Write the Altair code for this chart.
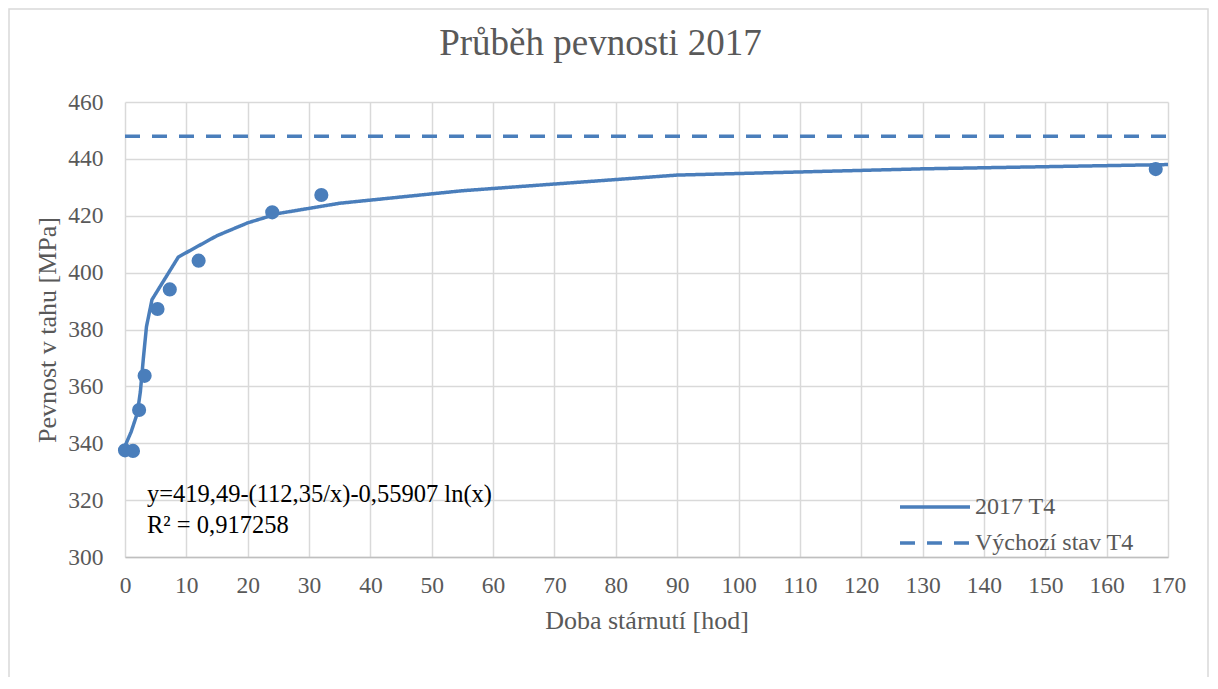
import altair as alt
import pandas as pd

# measured points
pt_x = [0, 1.3, 2.3, 3.2, 5.3, 7.3, 12, 24, 32, 168]
pt_y = [337.5, 337.3, 351.7, 363.7, 387.2, 394.1, 404.2, 421.2, 427.3, 436.4]

# "2017 T4" curve
line_x = [0, 1, 2, 2.5, 3, 3.5, 4.4, 8.7, 15, 20, 25, 35, 55, 90, 130, 170]
line_y = [339, 344, 350.5, 358, 370, 381, 390.5, 405.5, 413, 417.5, 420.8, 424.4, 428.8, 434.3, 436.5, 438]

# "Výchozí stav T4" reference level
ref_x = [0, 170]
ref_y = [448, 448]

series = ["2017 T4", "Výchozí stav T4"]
title_text = "Průběh pevnosti 2017"
eq_lines = ["y=419,49-(112,35/x)-0,55907 ln(x)", "R² = 0,917258"]

BLUE = "#4a7ebb"
GREY = "#595959"
FONT = "Liberation Serif"

lines = pd.DataFrame(
    {
        "x": line_x + ref_x,
        "y": line_y + ref_y,
        "s": [series[0]] * len(line_x) + [series[1]] * len(ref_x),
    }
)
pts = pd.DataFrame({"x": pt_x, "y": pt_y})
one = pd.DataFrame({"k": [0]})

xscale = alt.Scale(domain=[0, 170], nice=False, zero=False)
yscale = alt.Scale(domain=[300, 460], nice=False, zero=False)

xaxis = alt.Axis(
    title="Doba stárnutí [hod]",
    values=list(range(0, 171, 10)),
    grid=True,
    ticks=False,
    domain=True,
    domainColor="#bfbfbf",
    domainWidth=1.5,
    labelFlush=False,
    labelOverlap=False,
    labelPadding=16,
    titlePadding=11,
)
yaxis = alt.Axis(
    title="Pevnost v tahu [MPa]",
    values=list(range(300, 461, 20)),
    grid=True,
    ticks=False,
    domain=False,
    labelFlush=False,
    labelOverlap=False,
    labelPadding=22,
    titlePadding=7,
)

line_layer = (
    alt.Chart(lines)
    .mark_line(strokeWidth=3.5, color=BLUE, interpolate="linear")
    .encode(
        x=alt.X("x:Q", scale=xscale, axis=xaxis),
        y=alt.Y("y:Q", scale=yscale, axis=yaxis),
        strokeDash=alt.StrokeDash(
            "s:N",
            scale=alt.Scale(domain=series, range=[[1, 0], [15, 12]]),
            legend=alt.Legend(
                title=None,
                orient="none",
                direction="vertical",
                legendX=773,
                legendY=395,
                symbolType="stroke",
                symbolSize=4900,
                symbolStrokeWidth=3.5,
                symbolStrokeColor=BLUE,
                labelFont=FONT,
                labelFontSize=24,
                labelColor=GREY,
                labelOffset=3,
                clipHeight=20,
                rowPadding=12,
                padding=0,
            ),
        ),
        detail="s:N",
    )
)

pt_layer = (
    alt.Chart(pts)
    .mark_circle(size=200, color=BLUE, opacity=1)
    .encode(x=alt.X("x:Q", scale=xscale), y=alt.Y("y:Q", scale=yscale))
)

eq1 = alt.Chart(one).mark_text(
    text=eq_lines[0],
    font=FONT,
    fontSize=24.5,
    color="black",
    align="left",
    baseline="alphabetic",
).encode(x=alt.value(22), y=alt.value(400))

eq2 = alt.Chart(one).mark_text(
    text=eq_lines[1],
    font=FONT,
    fontSize=24.5,
    color="black",
    align="left",
    baseline="alphabetic",
).encode(x=alt.value(22), y=alt.value(431))

title = alt.Chart(one).mark_text(
    text=title_text,
    font=FONT,
    fontSize=37,
    color=GREY,
    align="center",
    baseline="alphabetic",
).encode(x=alt.value(475.5), y=alt.value(-47))

frame = alt.Chart(one).mark_rect(fill=None, stroke="#d9d9d9", strokeWidth=1.5).encode(
    x=alt.value(-116), x2=alt.value(1083), y=alt.value(-93), y2=alt.value(700)
)

chart = (
    alt.layer(frame, line_layer, pt_layer, eq1, eq2, title)
    .properties(
        width=1043,
        height=455,
        autosize=alt.AutoSizeParams(type="none"),
        padding={"left": 117, "top": 94, "right": 41, "bottom": 120},
    )
    .configure_view(stroke=None)
    .configure_axis(
        labelFont=FONT,
        labelFontSize=23.5,
        labelColor=GREY,
        titleFont=FONT,
        titleFontSize=26,
        titleFontWeight="normal",
        titleColor=GREY,
        gridColor="#d9d9d9",
        gridWidth=1.5,
    )
)

chart.save("out.html", embed_options={"renderer": "svg", "actions": False})
